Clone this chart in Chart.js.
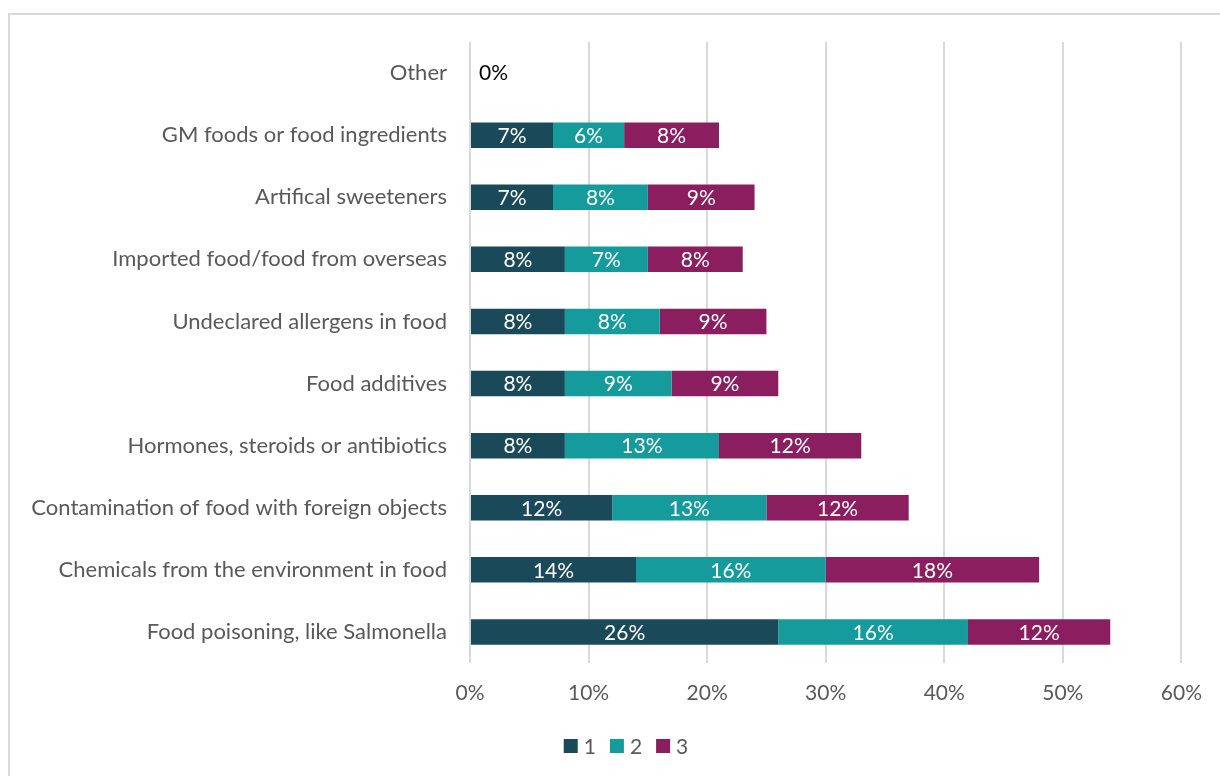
<!DOCTYPE html>
<html>
<head>
<meta charset="utf-8">
<script src="https://cdn.jsdelivr.net/npm/chart.js@4.4.1/dist/chart.umd.min.js"></script>
<style>
  html, body { margin: 0; padding: 0; background: #fff; overflow: hidden; }
  #frame { position: absolute; left: 8px; top: 13px; width: 1400px; height: 900px;
           border-left: 2px solid #d9d9d9; border-top: 2px solid #d9d9d9; }
  #chart { position: absolute; left: 0; top: 0; }
</style>
</head>
<body>
<div id="frame"></div>
<canvas id="chart" width="1220" height="776"></canvas>
<script>
// Categories, listed top to bottom as drawn
const categories = [
  'Other',
  'GM foods or food ingredients',
  'Artifical sweeteners',
  'Imported food/food from overseas',
  'Undeclared allergens in food',
  'Food additives',
  'Hormones, steroids or antibiotics',
  'Contamination of food with foreign objects',
  'Chemicals from the environment in food',
  'Food poisoning, like Salmonella'
];
const rank1 = [0, 7, 7, 8, 8, 8, 8, 12, 14, 26];
const rank2 = [0, 6, 8, 7, 8, 9, 13, 13, 16, 16];
const rank3 = [0, 8, 9, 8, 9, 9, 12, 12, 18, 12];
const seriesNames = ['1', '2', '3'];
const xTicks = [0, 10, 20, 30, 40, 50, 60];

const colors = ['#1a4a5a', '#159b9b', '#8b1e5f'];
const fontFamily = 'Lato, "Open Sans", sans-serif';
const fontSize = 21;

// draws the % labels inside each segment (no datalabels plugin offline)
const barLabels = {
  id: 'barLabels',
  afterDatasetsDraw(chart) {
    const ctx = chart.ctx;
    ctx.save();
    ctx.font = fontSize + 'px ' + fontFamily;
    ctx.textBaseline = 'middle';
    chart.data.datasets.forEach((ds, i) => {
      const meta = chart.getDatasetMeta(i);
      meta.data.forEach((bar, j) => {
        const v = ds.data[j];
        if (v === 0) {
          if (i === 0) {
            ctx.fillStyle = '#000';
            ctx.textAlign = 'left';
            ctx.fillText('0%', bar.base + 9, bar.y);
          }
          return;
        }
        ctx.fillStyle = '#fff';
        ctx.textAlign = 'center';
        ctx.fillText(v + '%', (bar.x + bar.base) / 2, bar.y + 1);
      });
    });
    ctx.restore();
  }
};

// bottom legend, centred a bit right of the canvas middle like the original
const bottomLegend = {
  id: 'bottomLegend',
  afterDraw(chart) {
    const ctx = chart.ctx;
    ctx.save();
    ctx.font = fontSize + 'px ' + fontFamily;
    ctx.textBaseline = 'middle';
    ctx.textAlign = 'left';
    const box = 14, gap = 6, space = 14, cy = 746;
    const items = chart.data.datasets.map(ds => ({
      text: ds.label, color: ds.backgroundColor, w: ctx.measureText(ds.label).width
    }));
    const total = items.reduce((s, it) => s + box + gap + it.w, 0) + space * (items.length - 1);
    let x = 626 - total / 2;
    items.forEach(it => {
      ctx.fillStyle = it.color;
      ctx.fillRect(x, cy - box / 2, box, box);
      ctx.fillStyle = '#595959';
      ctx.fillText(it.text, x + box + gap, cy + 1);
      x += box + gap + it.w + space;
    });
    ctx.restore();
  }
};

new Chart(document.getElementById('chart'), {
  type: 'bar',
  data: {
    labels: categories,
    datasets: [rank1, rank2, rank3].map((d, i) => ({
      label: seriesNames[i],
      data: d,
      backgroundColor: colors[i],
      categoryPercentage: 1,
      barPercentage: 0.41
    }))
  },
  options: {
    indexAxis: 'y',
    responsive: false,
    animation: false,
    devicePixelRatio: 1,
    layout: { padding: { top: 42, right: 35, left: 0, bottom: 53 } },
    plugins: {
      legend: { display: false },
      tooltip: { enabled: false }
    },
    scales: {
      x: {
        stacked: true,
        min: xTicks[0], max: xTicks[xTicks.length - 1],
        afterBuildTicks: s => { s.ticks = xTicks.map(v => ({ value: v })); },
        ticks: {
          callback: v => v + '%',
          color: '#595959', padding: 18,
          font: { size: fontSize, family: fontFamily }
        },
        grid: { color: '#d9d9d9', lineWidth: 2, drawTicks: false },
        border: { display: false },
        afterFit: s => { s.height = 60; }
      },
      y: {
        stacked: true,
        ticks: {
          color: '#595959', padding: 15,
          font: { size: 22, family: fontFamily }
        },
        grid: { display: false },
        border: { display: false },
        afterFit: s => { s.width = 470; }
      }
    }
  },
  plugins: [barLabels, bottomLegend]
});
</script>
</body>
</html>
